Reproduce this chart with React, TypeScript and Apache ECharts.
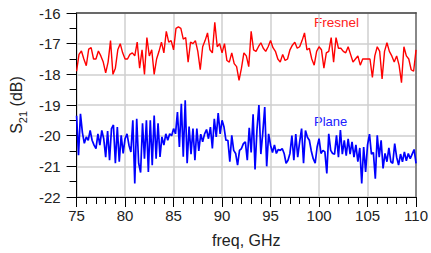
import React, { useEffect, useRef } from "react";
import * as echarts from "echarts";

// Fresnel series: sampled every 0.25 GHz from 75 GHz
const RED_START = 75;
const RED_STEP = 0.25;
const fresnel = [
  -17.9, -17.35, -17.24, -17.5, -17.72, -17.18, -17.13, -17.5, -17.5, -17.24,
  -17.4, -17.6, -17.95, -17.6, -16.9, -18.0, -17.8, -17.2, -17.0, -17.3,
  -17.5, -17.5, -17.35, -17.3, -17.4, -16.95, -17.8, -17.2, -18.0, -16.8,
  -17.4, -17.2, -18.0, -17.5, -17.25, -16.95, -17.3, -16.6, -16.95, -16.9,
  -17.2, -16.5, -16.45, -16.5, -16.85, -16.8, -17.6, -16.95, -17.0, -16.9,
  -17.25, -17.85, -17.1, -16.9, -16.65, -17.2, -17.3, -16.3, -17.1, -17.0,
  -17.3, -17.0, -17.55, -17.6, -17.3, -17.65, -17.75, -18.2, -17.8,
  -17.3, -17.4, -17.75, -16.6, -17.2, -17.25, -17.1, -16.97, -17.15, -17.25,
  -17.1, -16.9, -17.13, -17.25, -17.5, -17.6, -17.35, -17.55, -17.5, -17.2,
  -17.05, -16.95, -17.15, -17.1, -16.9, -16.65, -17.2, -17.15, -17.5, -17.7,
  -17.25, -17.1, -17.2, -17.8, -17.3, -17.25, -16.8, -17.6, -16.8, -17.15,
  -17.15, -17.25, -17.3, -17.1, -17.35, -17.6, -17.5, -17.4, -17.7, -17.5,
  -17.5, -17.5, -17.5, -18.1, -17.4, -17.1, -17.25, -18.15, -17.25, -16.97,
  -17.25, -17.4, -17.6, -17.4, -17.7, -18.27, -17.1, -17.4, -17.5, -17.85,
  -17.9, -17.2,
];

// Plane series: sampled every 0.2 GHz from 75 GHz
const BLUE_START = 75;
const BLUE_STEP = 0.2;
const plane = [
  -19.35, -20.64, -19.29, -19.9, -20.25, -20.04, -20.15, -19.83, -20.15, -20.31,
  -20.42, -19.94, -20.31, -19.83, -20.1, -20.7, -19.85, -20.8, -19.77, -19.65,
  -20.9, -19.72, -20.85, -19.99, -20.58, -20.1, -19.94, -20.31, -20.53, -19.5,
  -21.56, -19.45, -20.9, -21.2, -19.6, -20.75, -19.5, -21.18, -19.5, -20.96,
  -19.34, -20.75, -19.6, -20.69, -20.04, -20.31, -19.94, -20.15, -19.94, -20.0,
  -19.77, -19.94, -19.23, -20.37, -18.96, -20.69, -18.85, -20.9, -19.7, -20.6,
  -19.77, -20.8, -19.77, -20.5, -19.95, -20.2, -19.94, -19.8, -20.1, -19.72,
  -20.42, -19.45, -20.04, -19.26, -19.94, -19.5, -19.72, -20.15, -20.15, -20.85,
  -19.99, -20.48, -20.58, -20.96, -20.48, -20.42, -20.26,
  -20.2, -20.8, -19.74, -20.55, -19.3, -21.1, -19.8, -19.0, -20.6, -19.9,
  -19.07, -21.0, -19.94,
  -20.31, -20.55, -20.3, -20.58, -20.45, -20.48, -20.42, -20.58, -20.9, -20.8,
  -20.58, -20.0, -20.8, -19.95, -20.7,
  -20.2, -19.77, -20.9, -19.83, -20.05, -20.15, -20.5, -20.75, -20.9, -20.37,
  -20.1, -20.58, -20.48, -20.53, -21.23, -19.94, -20.48, -20.58, -20.6, -19.99,
  -20.7, -19.82, -20.6, -20.15, -20.65, -20.1, -20.6, -20.2, -20.7, -20.3,
  -20.85, -20.4, -21.56, -20.37, -21.18,
  -20.3, -19.95, -20.6, -20.55, -21.4, -19.99, -20.7,
  -20.15, -21.07, -20.58, -20.85, -20.4, -20.85, -20.9, -20.26, -20.7, -20.96,
  -20.6, -20.85, -20.53, -20.82, -20.58, -20.75, -20.6, -20.45, -20.9,
];

const X_MIN = 75;
const X_MAX = 110;
const Y_MIN = -22;
const Y_MAX = -16;

const FONT = "'Liberation Sans', Arial, sans-serif";

export default function App() {
  const ref = useRef<HTMLDivElement>(null);
  useEffect(() => {
    document.body.style.margin = "0";
    if (!ref.current) return;
    const chart = echarts.init(ref.current, null, { renderer: "svg" });
    const redData = fresnel.map((v, i) => [RED_START + i * RED_STEP, v]);
    const blueData = plane.map((v, i) => [BLUE_START + i * BLUE_STEP, v]);
    chart.setOption({
      animation: false,
      textStyle: { fontFamily: FONT },
      grid: { left: 76, right: 10, top: 13, bottom: 55, containLabel: false },
      xAxis: [
        {
          type: "value",
          min: X_MIN,
          max: X_MAX,
          interval: 5,
          name: "freq, GHz",
          nameLocation: "middle",
          nameGap: 35,
          nameTextStyle: { fontSize: 16, color: "#222", fontFamily: FONT },
          axisLine: { show: true, onZero: false, lineStyle: { color: "#000", width: 1 } },
          axisTick: { show: true, length: 10, lineStyle: { color: "#000" } },
          minorTick: { show: true, splitNumber: 5, length: 7, lineStyle: { color: "#000" } },
          splitLine: { show: true, lineStyle: { color: "#cfcfcf", width: 1.5 } },
          axisLabel: { fontSize: 15, color: "#222", margin: 11, fontFamily: FONT },
        },
        {
          type: "value",
          position: "top",
          min: X_MIN,
          max: X_MAX,
          axisLine: { show: true, onZero: false, lineStyle: { color: "#444", width: 1.5 } },
          axisTick: { show: false },
          axisLabel: { show: false },
          splitLine: { show: false },
        },
      ],
      yAxis: [
        {
          type: "value",
          min: Y_MIN,
          max: Y_MAX,
          interval: 1,
          name: "{m|S}{s|21}{m| (dB)}",
          nameLocation: "middle",
          nameGap: 40,
          nameTextStyle: {
            color: "#222",
            fontFamily: FONT,
            rich: {
              m: { fontSize: 16, color: "#222", fontFamily: FONT, lineHeight: 24, verticalAlign: "middle" },
              s: { fontSize: 11, color: "#222", fontFamily: FONT, verticalAlign: "bottom" },
            },
          },
          axisLine: { show: true, onZero: false, lineStyle: { color: "#000", width: 1 } },
          axisTick: { show: true, length: 10, lineStyle: { color: "#000" } },
          minorTick: { show: true, splitNumber: 2, length: 7, lineStyle: { color: "#000" } },
          splitLine: { show: true, lineStyle: { color: "#cfcfcf", width: 1.5 } },
          axisLabel: { fontSize: 15, color: "#222", margin: 16, fontFamily: FONT },
        },
        {
          type: "value",
          position: "right",
          min: Y_MIN,
          max: Y_MAX,
          axisLine: { show: true, onZero: false, lineStyle: { color: "#888", width: 2 } },
          axisTick: { show: false },
          axisLabel: { show: false },
          splitLine: { show: false },
        },
      ],
      series: [
        {
          type: "line",
          name: "Fresnel",
          data: redData,
          showSymbol: false,
          lineStyle: { color: "#ff0000", width: 1.4 },
          itemStyle: { color: "#ff0000" },
        },
        {
          type: "line",
          name: "Plane",
          data: blueData,
          showSymbol: false,
          lineStyle: { color: "#0000ff", width: 1.7 },
          itemStyle: { color: "#0000ff" },
        },
      ],
      graphic: [
        {
          type: "text",
          left: 314,
          top: 15,
          style: { text: "Fresnel", fill: "#ff2020", font: `13.5px ${FONT}` },
        },
        {
          type: "text",
          left: 314,
          top: 115,
          style: { text: "Plane", fill: "#2020ff", font: `13px ${FONT}` },
        },
      ],
    });
    return () => chart.dispose();
  }, []);
  return <div ref={ref} style={{ width: 431, height: 253 }} />;
}
